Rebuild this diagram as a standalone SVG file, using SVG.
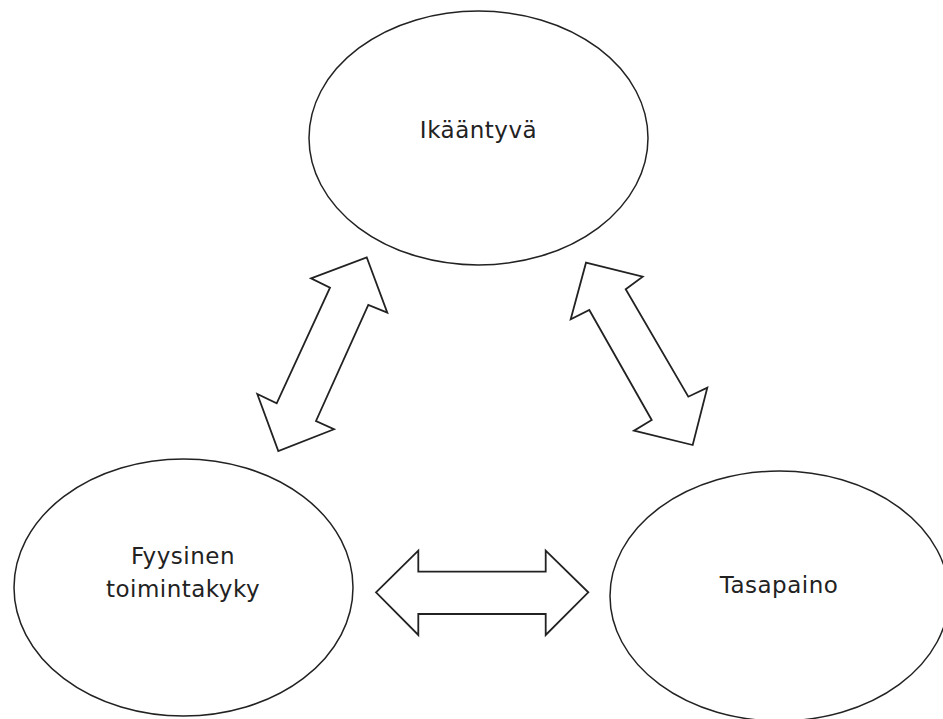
<svg xmlns="http://www.w3.org/2000/svg" width="943" height="719" viewBox="0 0 943 719">
<style>
.node ellipse{fill:#fff;stroke:#222;stroke-width:1.5}
.node text{font-family:"DejaVu Sans",Verdana,sans-serif;font-size:23px;letter-spacing:0.5px;fill:#222;text-anchor:middle}
.conn polygon{fill:#fff;stroke:#222;stroke-width:1.8;stroke-linejoin:miter}
</style>
<rect width="943" height="719" fill="#fff"/>
<g class="conn" id="connectors">
<polygon points="366.7,257.3 387.3,312.7 368.3,305 316,421 334,429.3 278.3,451 257.3,394 276.7,403.3 330,287.7 311,278.3"/>
<polygon points="586,262.7 642.7,276.7 625.7,289.3 688.3,396.7 707.3,387.7 692.7,445 634,430.7 651.7,420 589.3,310 570.7,319.3"/>
<polygon points="376,592.3 418.3,550.7 418.3,571.7 545.7,571.7 545.7,550.7 588.3,592.3 545.7,635 545.7,614 418.3,614 418.3,635"/>
</g>
<g class="node" id="ikaantyva">
<ellipse cx="478.5" cy="138" rx="169.5" ry="127"/>
<text x="478.5" y="138">Ikääntyvä</text>
</g>
<g class="node" id="fyysinen">
<ellipse cx="183.5" cy="587.5" rx="169.5" ry="128.5"/>
<text x="183" y="564">Fyysinen</text>
<text x="183" y="597">toimintakyky</text>
</g>
<g class="node" id="tasapaino">
<ellipse cx="779.5" cy="596" rx="169.5" ry="125"/>
<text x="779" y="593">Tasapaino</text>
</g>
</svg>
